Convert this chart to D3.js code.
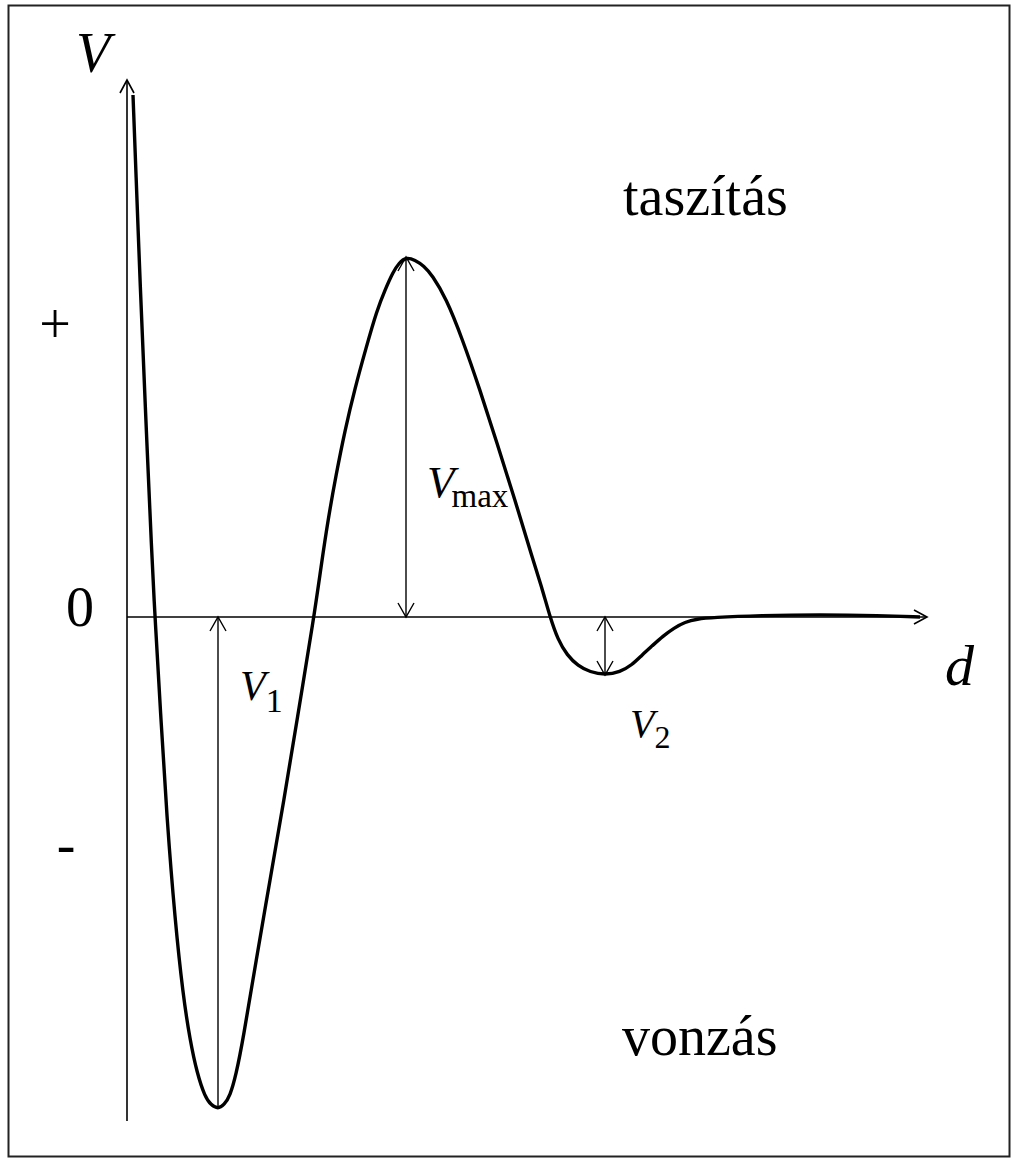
<!DOCTYPE html>
<html>
<head>
<meta charset="utf-8">
<script src="https://cdn.jsdelivr.net/npm/d3@7"></script>
<style>
  html, body { margin: 0; padding: 0; background: #fff; }
  svg { display: block; }
  text { font-family: "Liberation Serif", "Times New Roman", serif; fill: #000; }
</style>
</head>
<body>
<svg id="chart" width="1019" height="1160"></svg>
<script>
// Interaction potential V(d): distance d (arbitrary units), energy V in units of Vmax
const curveD = [0.075, 0.125, 0.1625, 0.225, 0.3125, 0.35, 0.425, 0.5, 0.6, 0.7, 0.7875, 0.875, 0.975, 1.05, 1.1375,
  1.2125, 1.2875, 1.3625, 1.45, 1.6125, 1.7875, 1.9625, 2.125, 2.3375, 2.425, 2.5125, 2.6125, 2.725, 2.85, 2.9875,
  3.125, 3.225, 3.325, 3.4, 3.4875, 3.6, 3.7125, 3.8125, 3.9875, 4.1875, 4.4125, 4.625, 4.85, 5.075, 5.1875, 5.2875,
  5.3875, 5.5, 5.6375, 5.7875, 5.975, 6.1625, 6.3125, 6.4375, 6.5625, 6.7, 6.8375, 6.975, 7.125, 7.3125, 7.9125,
  8.6625, 9.4125, 9.9125];
const curveV = [1.45, 1.1583, 0.9361, 0.6028, 0.1583, 0, -0.2861, -0.5639, -0.8417, -1.05, -1.175, -1.2667, -1.3333,
  -1.3556, -1.3667, -1.3556, -1.3306, -1.2722, -1.175, -0.9556, -0.7306, -0.5083, -0.2861, 0, 0.1389, 0.2694, 0.3944,
  0.5194, 0.6361, 0.7472, 0.8528, 0.9083, 0.9583, 0.9833, 1.0, 0.9917, 0.975, 0.95, 0.8861, 0.775, 0.6306, 0.4833,
  0.325, 0.1583, 0.0806, 0, -0.0639, -0.1056, -0.1361, -0.1528, -0.1611, -0.1528, -0.1333, -0.1056, -0.0806, -0.0528,
  -0.0306, -0.0139, -0.0056, -0.0014, 0.0042, 0.0069, 0.0042, 0];

// Marked extrema: first minimum V1, barrier Vmax, secondary minimum V2
const markNames = ["V1", "Vmax", "V2"];
const markD = [1.1375, 3.4875, 5.975];
const markV = [-1.3667, 1.0, -0.1611];
const markBothEnds = [false, true, true];

// Axis sign labels
const signLabels = ["+", "0", "-"];
const signValues = [0.8, 0, -0.65];

const svg = d3.select("#chart");

const x = d3.scaleLinear().domain([0, 10]).range([127, 927]);
const y = d3.scaleLinear().domain([-1.4, 1.5]).range([1121, 77]);

// outer frame
svg.append("rect")
  .attr("x", 8.5).attr("y", 5.5)
  .attr("width", 1001).attr("height", 1151)
  .attr("fill", "none").attr("stroke", "#222").attr("stroke-width", 2);

// open chevron arrowhead at (px,py) pointing in direction angle (radians)
function chevron(g, px, py, angle, len, half, width) {
  const bx = px - Math.cos(angle) * len, by = py - Math.sin(angle) * len;
  const nx = -Math.sin(angle) * half, ny = Math.cos(angle) * half;
  g.append("path")
    .attr("d", `M${bx + nx},${by + ny}L${px},${py}L${bx - nx},${by - ny}`)
    .attr("fill", "none").attr("stroke", "#000").attr("stroke-width", width)
    .attr("stroke-linejoin", "miter");
}

const axes = svg.append("g");
// vertical V axis
axes.append("line")
  .attr("x1", x(0)).attr("x2", x(0))
  .attr("y1", y(-1.4)).attr("y2", y(1.5) + 3)
  .attr("stroke", "#000").attr("stroke-width", 1.6);
chevron(axes, x(0), y(1.5) + 3, -Math.PI / 2, 13, 7, 1.6);
// horizontal d axis
axes.append("line")
  .attr("x1", x(0)).attr("x2", x(10))
  .attr("y1", y(0)).attr("y2", y(0))
  .attr("stroke", "#000").attr("stroke-width", 1.6);
chevron(axes, x(10), y(0), 0, 13, 7, 1.6);

// potential curve (B-spline through the sampled points)
const line = d3.line()
  .x((d, i) => x(curveD[i]))
  .y((d, i) => y(curveV[i]))
  .curve(d3.curveBasis);
svg.append("path")
  .datum(curveD)
  .attr("d", line)
  .attr("fill", "none")
  .attr("stroke", "#000")
  .attr("stroke-width", 3.4)
  .attr("stroke-linejoin", "round");

// extremum arrows measured from V = 0
const marks = svg.append("g");
markNames.forEach((name, i) => {
  const px = x(markD[i]);
  const y0 = y(0), y1 = y(markV[i]);
  marks.append("line")
    .attr("x1", px).attr("x2", px)
    .attr("y1", y0).attr("y2", y1)
    .attr("stroke", "#000").attr("stroke-width", 1.4);
  const dir = y1 < y0 ? 1 : -1; // +1 if extremum above the axis
  // head at the axis end, pointing towards the axis
  chevron(marks, px, y0, dir > 0 ? Math.PI / 2 : -Math.PI / 2, 14, 8, 1.4);
  if (markBothEnds[i]) {
    chevron(marks, px, y1, dir > 0 ? -Math.PI / 2 : Math.PI / 2, 14, 8, 1.4);
  }
});

// subscripted italic labels
function subLabel(px, py, main, sub, size, subSize, subDrop, subDx) {
  const t = svg.append("text").attr("x", px).attr("y", py).attr("font-size", size);
  t.append("tspan").attr("font-style", "italic").text(main);
  t.append("tspan").attr("font-size", subSize).attr("dx", subDx).attr("dy", subDrop).text(sub);
}
subLabel(x(markD[0]) + 22, y(0) + 83, "V", "1", 42, 34, 12, 0);
subLabel(x(markD[1]) + 21, y(0) - 120, "V", "max", 45, 33, 10, -3);
subLabel(x(markD[2]) + 25, y(0) + 120, "V", "2", 40, 32, 11, 0);

// axis titles
svg.append("text").attr("x", 76).attr("y", 72)
  .attr("font-size", 56).attr("font-style", "italic").text("V");
svg.append("text").attr("x", 945).attr("y", 685)
  .attr("font-size", 58).attr("font-style", "italic").text("d");

// sign labels on the V axis
const signX = [55, 80, 66];
const signShift = [14, 9, 12];
signLabels.forEach((s, i) => {
  svg.append("text")
    .attr("x", signX[i])
    .attr("y", y(signValues[i]) + signShift[i])
    .attr("text-anchor", "middle")
    .attr("font-size", 56)
    .text(s);
});

// region captions
svg.append("text").attr("x", 623).attr("y", 215).attr("font-size", 56).text("taszítás");
svg.append("text").attr("x", 622).attr("y", 1055).attr("font-size", 56).text("vonzás");
</script>
</body>
</html>
